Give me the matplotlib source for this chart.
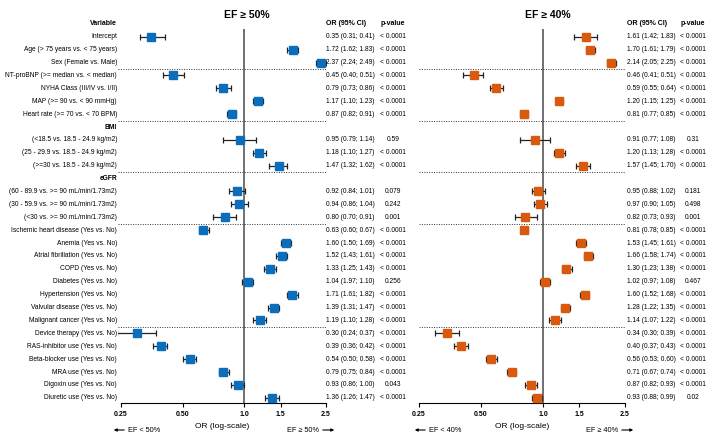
import numpy as np
import matplotlib
matplotlib.use("Agg")
import matplotlib.pyplot as plt
from matplotlib.transforms import blended_transform_factory

plt.rcParams['font.family'] = ['Liberation Sans', 'DejaVu Sans']

# row labels (None in values = group header row)
labels = [
    "Intercept", "Age (> 75 years vs. < 75 years)", "Sex (Female vs. Male)",
    "NT-proBNP (>= median vs. < median)", "NYHA Class (III/IV vs. I/II)",
    "MAP (>= 90 vs. < 90 mmHg)", "Heart rate (>= 70 vs. < 70 BPM)",
    "BMI", "(<18.5 vs. 18.5 - 24.9 kg/m2)", "(25 - 29.9 vs. 18.5 - 24.9 kg/m2)",
    "(>=30 vs. 18.5 - 24.9 kg/m2)",
    "eGFR", "(60 - 89.9 vs. >= 90 mL/min/1.73m2)", "(30 - 59.9 vs. >= 90 mL/min/1.73m2)",
    "(<30 vs. >= 90 mL/min/1.73m2)",
    "Ischemic heart disease (Yes vs. No)", "Anemia (Yes vs. No)",
    "Atrial fibrillation (Yes vs. No)", "COPD (Yes vs. No)", "Diabetes (Yes vs. No)",
    "Hypertension (Yes vs. No)", "Valvular disease (Yes vs. No)",
    "Malignant cancer (Yes vs. No)", "Device therapy (Yes vs. No)",
    "RAS-inhibitor use (Yes vs. No)", "Beta-blocker use (Yes vs. No)",
    "MRA use (Yes vs. No)", "Digoxin use (Yes vs. No)", "Diuretic use (Yes vs. No)",
]
headers = ["BMI", "eGFR"]
separators = [2.5, 6.5, 10.5, 14.5, 22.5]

# EF >= 50%
or50 = [0.35, 1.72, 2.37, 0.45, 0.79, 1.17, 0.87, None, 0.95, 1.18, 1.47, None, 0.92, 0.94, 0.80,
        0.63, 1.60, 1.52, 1.33, 1.04, 1.71, 1.39, 1.19, 0.30, 0.39, 0.54, 0.79, 0.93, 1.36]
lo50 = [0.31, 1.62, 2.24, 0.40, 0.73, 1.10, 0.82, None, 0.79, 1.10, 1.32, None, 0.84, 0.86, 0.70,
        0.60, 1.50, 1.43, 1.25, 0.97, 1.61, 1.31, 1.10, 0.24, 0.36, 0.50, 0.75, 0.86, 1.26]
hi50 = [0.41, 1.83, 2.49, 0.51, 0.86, 1.23, 0.91, None, 1.14, 1.27, 1.62, None, 1.01, 1.04, 0.91,
        0.67, 1.69, 1.61, 1.43, 1.10, 1.82, 1.47, 1.28, 0.37, 0.42, 0.58, 0.84, 1.00, 1.47]
p50 = ["< 0.0001"] * 7 + [""] + ["0.59", "< 0.0001", "< 0.0001", "", "0.079", "0.242", "0.001"] + \
      ["< 0.0001"] * 4 + ["0.256"] + ["< 0.0001"] * 7 + ["0.043", "< 0.0001"]
text_fix50 = {19: "1.04 (1.97; 1.10)"}

# EF >= 40%
or40 = [1.61, 1.70, 2.14, 0.46, 0.59, 1.20, 0.81, None, 0.91, 1.20, 1.57, None, 0.95, 0.97, 0.82,
        0.81, 1.53, 1.66, 1.30, 1.02, 1.60, 1.28, 1.14, 0.34, 0.40, 0.56, 0.71, 0.87, 0.93]
lo40 = [1.42, 1.61, 2.05, 0.41, 0.55, 1.15, 0.77, None, 0.77, 1.13, 1.45, None, 0.88, 0.90, 0.73,
        0.78, 1.45, 1.58, 1.23, 0.97, 1.52, 1.22, 1.07, 0.30, 0.37, 0.53, 0.67, 0.82, 0.88]
hi40 = [1.83, 1.79, 2.25, 0.51, 0.64, 1.25, 0.85, None, 1.08, 1.28, 1.70, None, 1.02, 1.05, 0.93,
        0.85, 1.61, 1.74, 1.38, 1.08, 1.68, 1.35, 1.22, 0.39, 0.43, 0.60, 0.74, 0.93, 0.99]
p40 = ["< 0.0001"] * 7 + [""] + ["0.31", "< 0.0001", "< 0.0001", "", "0.181", "0.498", "0.001"] + \
      ["< 0.0001"] * 4 + ["0.467"] + ["< 0.0001"] * 7 + ["< 0.0001", "0.02"]

ticks = [0.25, 0.5, 1.0, 1.5, 2.5]
tick_labels = ["0.25", "0.50", "1.0", "1.5", "2.5"]

W, H = 709, 434
fig = plt.figure(figsize=(W / 100, H / 100), dpi=100)

def fx(px):
    return px / W

def fy(py):
    return 1 - py / H

FS = 4.8

def panel(x0, x1, xlim, ors, los, his, pvals, color, title, title_x, or_x, p_x, ef, show_labels, fix):
    ax = fig.add_axes([fx(x0), fy(403), fx(x1 - x0), (403 - 29) / H])
    ax.set_xscale('log')
    ax.set_xlim(*xlim)
    ax.set_ylim(28.4, -0.6)
    for s in ['top', 'right', 'left']:
        ax.spines[s].set_visible(False)
    ax.spines['bottom'].set_bounds(0.25, 2.5)
    ax.spines['bottom'].set_linewidth(0.8)
    ax.set_yticks([])
    ax.set_xticks(ticks)
    ax.set_xticklabels(tick_labels, fontsize=5, fontweight='bold')
    ax.xaxis.set_minor_locator(matplotlib.ticker.NullLocator())
    ax.tick_params(axis='x', length=3, width=0.8, pad=3)
    ax.axvline(1.0, color='#707070', lw=1.4, zorder=1)
    for s in separators:
        ax.axhline(s, color='#333333', lw=0.7, ls=(0, (1, 1.5)), zorder=1)

    tr = blended_transform_factory(fig.transFigure, ax.transData)
    for i, v in enumerate(ors):
        if v is None:
            continue
        ax.errorbar(v, i, xerr=[[v - los[i]], [his[i] - v]], fmt='none', ecolor='#222222',
                    elinewidth=0.9, capsize=2.5, capthick=0.9, zorder=2)
        ax.plot(v, i, marker='s', ms=6.3, color=color, mec=color, zorder=3)
        txt = fix.get(i, f"{v:.2f} ({los[i]:.2f}; {his[i]:.2f})")
        ax.text(fx(or_x), i, txt, transform=tr, fontsize=FS, va='center', ha='left')
        ax.text(fx(p_x), i, pvals[i], transform=tr, fontsize=FS, va='center', ha='center')

    ax.text(fx(or_x), -1, "OR (95% CI)", transform=tr, fontsize=FS + 0.2, va='center', ha='left',
            fontweight='bold')
    ax.text(fx(p_x), -1, "p-value", transform=tr, fontsize=FS + 0.2, va='center', ha='center',
            fontweight='bold')
    if show_labels:
        ax.text(fx(117), -1, "Variable", transform=tr, fontsize=FS + 0.2, va='center', ha='right',
                fontweight='bold')
        for i, lab in enumerate(labels):
            ax.text(fx(117), i, lab, transform=tr, fontsize=FS, va='center', ha='right',
                    fontweight='bold' if lab in headers else 'normal')

    fig.text(fx(title_x), fy(15), title, fontsize=7.5, fontweight='bold', ha='center', va='center')
    fig.text(fx((x0 + x1) / 2), fy(427), "OR (log-scale)", fontsize=6, ha='center', va='center')
    # direction arrows
    la, ra = ef
    fig.text(fx(x0 + 10), fy(430), la, fontsize=5.3, ha='left', va='center')
    fig.patches.append(matplotlib.patches.FancyArrowPatch(
        (fx(x0 + 9), fy(430)), (fx(x0 - 7), fy(430)), transform=fig.transFigure,
        arrowstyle='-|>', mutation_scale=4, lw=0.8, color='black'))
    fig.text(fx(x1 - 7), fy(430), ra, fontsize=5.3, ha='right', va='center')
    fig.patches.append(matplotlib.patches.FancyArrowPatch(
        (fx(x1 - 6), fy(430)), (fx(x1 + 11), fy(430)), transform=fig.transFigure,
        arrowstyle='-|>', mutation_scale=4, lw=0.8, color='black'))
    return ax

panel(118, 326, (0.2417, 2.5), or50, lo50, hi50, p50, '#0A6EBD', "EF \u2265 50%", 247,
      326, 393, ("EF < 50%", "EF \u2265 50%"), True, text_fix50)
panel(419, 625, (0.25, 2.5), or40, lo40, hi40, p40, '#D95A0E', "EF \u2265 40%", 548,
      627, 693, ("EF < 40%", "EF \u2265 40%"), False, {})

fig.savefig("out.png", dpi=100)
